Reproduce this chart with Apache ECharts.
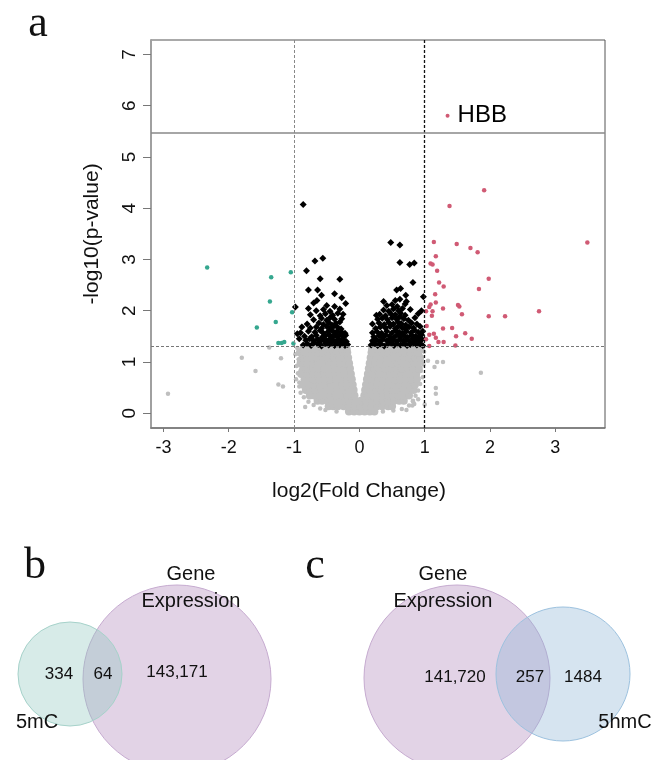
<!DOCTYPE html>
<html>
<head>
<meta charset="utf-8">
<script src="https://cdn.jsdelivr.net/npm/echarts@6/dist/echarts.min.js"></script>
<style>
html, body { margin: 0; padding: 0; background: #fff; }
#chart { width: 655px; height: 760px; }
</style>
</head>
<body>
<div id="chart"></div>
<script>
// axis ticks and cut-offs
const xTicks = [-3, -2, -1, 0, 1, 2, 3];
const yTicks = [0, 1, 2, 3, 4, 5, 6, 7];
const foldCutoffs = [-1, 1];
const pCutoff = 1.301;
const breakY = 5.48;

// non-significant genes, dense core read row by row: [y, [x...]]
const grayRows = [
  [0.03, [-0.16, -0.08, 0.0, 0.08, 0.16, 0.23]],
  [0.135, [-0.47, -0.4, -0.33, -0.24, -0.16, -0.07, 0.01, 0.1, 0.18, 0.27, 0.35, 0.44, 0.5]],
  [0.24, [-0.64, -0.57, -0.49, -0.41, -0.32, -0.24, -0.15, -0.07, 0.02, 0.1, 0.19, 0.27, 0.36, 0.44, 0.53, 0.61, 0.68]],
  [0.345, [-0.76, -0.69, -0.61, -0.53, -0.44, -0.36, -0.27, -0.19, -0.12, -0.075, 0.075, 0.13, 0.2, 0.28, 0.36, 0.44, 0.52, 0.6, 0.68, 0.76]],
  [0.45, [-0.82, -0.755, -0.67, -0.585, -0.5, -0.415, -0.33, -0.245, -0.16, -0.088, 0.088, 0.17, 0.255, 0.34, 0.425, 0.51, 0.595, 0.68, 0.765, 0.83]],
  [0.555, [-0.86, -0.775, -0.69, -0.605, -0.52, -0.435, -0.35, -0.265, -0.18, -0.102, 0.102, 0.185, 0.27, 0.355, 0.44, 0.525, 0.61, 0.695, 0.78, 0.85]],
  [0.66, [-0.84, -0.775, -0.7, -0.615, -0.53, -0.445, -0.36, -0.275, -0.19, -0.116, 0.116, 0.2, 0.285, 0.37, 0.455, 0.54, 0.625, 0.71, 0.795, 0.88]],
  [0.765, [-0.89, -0.795, -0.71, -0.625, -0.54, -0.455, -0.37, -0.285, -0.2, -0.13, 0.13, 0.215, 0.3, 0.385, 0.47, 0.555, 0.64, 0.725, 0.81, 0.87]],
  [0.87, [-0.86, -0.795, -0.71, -0.625, -0.54, -0.455, -0.37, -0.285, -0.21, -0.144, 0.144, 0.225, 0.31, 0.395, 0.48, 0.565, 0.65, 0.735, 0.82, 0.91]],
  [0.975, [-0.9, -0.805, -0.72, -0.635, -0.55, -0.465, -0.38, -0.3, -0.225, -0.158, 0.158, 0.24, 0.325, 0.41, 0.495, 0.58, 0.665, 0.75, 0.835, 0.89]],
  [1.08, [-0.87, -0.8, -0.73, -0.645, -0.56, -0.475, -0.39, -0.31, -0.24, -0.172, 0.172, 0.255, 0.34, 0.425, 0.51, 0.595, 0.68, 0.765, 0.85, 0.93]],
  [1.185, [-0.91, -0.815, -0.73, -0.645, -0.56, -0.475, -0.39, -0.32, -0.25, -0.186, 0.186, 0.265, 0.35, 0.435, 0.52, 0.605, 0.69, 0.775, 0.86, 0.9]],
  [1.25, [-0.86, -0.79, -0.72, -0.64, -0.56, -0.48, -0.4, -0.33, -0.26, -0.194, 0.194, 0.27, 0.355, 0.44, 0.525, 0.61, 0.695, 0.78, 0.865, 0.94]]
];

// non-significant genes, loose points round the core and far out
const grayLoose = [
  [-0.95, 1.27], [-0.98, 1.15], [-0.93, 1.05], [-0.96, 0.92], [-0.94, 0.78], [-0.97, 0.66],
  [-0.92, 0.52], [-0.9, 0.4], [-0.85, 0.31], [-0.78, 0.22], [-0.7, 0.16], [-0.6, 0.09],
  [-0.52, 0.06], [-0.35, 0.03], [-0.93, 1.19], [-0.9, 0.83], [-0.92, 0.6], [-0.83, 0.12],
  [0.96, 1.27], [0.99, 1.2], [0.95, 1.06], [0.98, 0.95], [0.94, 0.82], [0.97, 0.7],
  [0.93, 0.57], [0.9, 0.44], [0.86, 0.34], [0.82, 0.24], [0.76, 0.15], [0.65, 0.08],
  [0.52, 0.05], [0.36, 0.03], [0.84, 0.18], [0.9, 0.27], [0.95, 1.0], [0.72, 0.06],
  [-2.93, 0.38], [-1.8, 1.08], [-1.59, 0.82], [-1.38, 1.28], [-1.2, 1.07], [-1.24, 0.56],
  [-1.17, 0.52], [1.86, 0.79], [1.05, 1.02], [1.19, 1.0], [1.28, 1.0], [1.15, 0.9],
  [1.17, 0.49], [1.17, 0.38], [1.19, 0.2], [0.82, 0.23], [0.81, 0.15], [1.0, 0.17]
];

// p < 0.05 but |log2FC| < 1
const blackPts = [
  [-0.86, 4.07], [-0.68, 2.97], [-0.56, 3.02], [-0.81, 2.78], [-0.6, 2.62], [-0.3, 2.61],
  [-0.78, 2.4], [-0.64, 2.4], [-0.58, 2.3], [-0.38, 2.33], [-0.27, 2.25], [-0.65, 2.2],
  [-0.7, 2.15], [-0.98, 2.07], [-0.78, 2.04], [-0.21, 2.14],
  [-0.86, 1.33], [-0.8, 1.36], [-0.74, 1.32], [-0.69, 1.38], [-0.63, 1.34], [-0.58, 1.31],
  [-0.52, 1.36], [-0.47, 1.33], [-0.43, 1.38], [-0.38, 1.32], [-0.34, 1.35], [-0.3, 1.33],
  [-0.26, 1.37], [-0.22, 1.32], [-0.18, 1.34],
  [-0.82, 1.42], [-0.76, 1.45], [-0.7, 1.41], [-0.64, 1.44], [-0.6, 1.4], [-0.55, 1.43],
  [-0.5, 1.41], [-0.45, 1.45], [-0.4, 1.42], [-0.36, 1.4], [-0.32, 1.44], [-0.28, 1.41],
  [-0.24, 1.43], [-0.2, 1.4],
  [-0.84, 1.5], [-0.73, 1.49], [-0.66, 1.52], [-0.57, 1.48], [-0.52, 1.51], [-0.46, 1.53],
  [-0.41, 1.49], [-0.37, 1.52], [-0.33, 1.5], [-0.29, 1.54], [-0.25, 1.49], [-0.21, 1.52],
  [-0.9, 1.57], [-0.78, 1.6], [-0.68, 1.58], [-0.6, 1.61], [-0.55, 1.56], [-0.48, 1.59],
  [-0.43, 1.62], [-0.38, 1.57], [-0.34, 1.6], [-0.27, 1.58], [-0.22, 1.56],
  [-0.75, 1.66], [-0.66, 1.68], [-0.58, 1.65], [-0.5, 1.69], [-0.44, 1.66], [-0.39, 1.7],
  [-0.33, 1.67], [-0.28, 1.64],
  [-0.8, 1.74], [-0.62, 1.76], [-0.55, 1.73], [-0.47, 1.77], [-0.42, 1.72], [-0.36, 1.75], [-0.3, 1.78],
  [-0.7, 1.82], [-0.58, 1.85], [-0.5, 1.81], [-0.45, 1.86], [-0.38, 1.83], [-0.27, 1.84],
  [-0.75, 1.92], [-0.6, 1.9], [-0.52, 1.94], [-0.41, 1.91], [-0.33, 1.95], [-0.25, 1.93],
  [-0.66, 2.0], [-0.55, 2.02], [-0.45, 1.99], [-0.3, 2.03], [-0.5, 2.1], [-0.38, 2.08],
  [-0.92, 1.45], [-0.95, 1.55], [-0.88, 1.68],
  [0.48, 3.33], [0.62, 3.28], [0.62, 2.94], [0.77, 2.9], [0.84, 2.93], [0.82, 2.55],
  [0.63, 2.43], [0.57, 2.4], [0.98, 2.27], [0.71, 2.3], [0.37, 2.18], [0.42, 2.1],
  [0.18, 1.33], [0.23, 1.36], [0.28, 1.32], [0.33, 1.35], [0.38, 1.31], [0.43, 1.34],
  [0.48, 1.37], [0.53, 1.32], [0.58, 1.35], [0.63, 1.33], [0.68, 1.36], [0.73, 1.32],
  [0.78, 1.34], [0.83, 1.37], [0.88, 1.33], [0.93, 1.35], [0.97, 1.32],
  [0.2, 1.41], [0.26, 1.43], [0.31, 1.4], [0.36, 1.44], [0.42, 1.41], [0.47, 1.45],
  [0.52, 1.42], [0.57, 1.4], [0.62, 1.44], [0.67, 1.41], [0.72, 1.43], [0.77, 1.4],
  [0.82, 1.45], [0.87, 1.42], [0.92, 1.4], [0.96, 1.44],
  [0.22, 1.49], [0.3, 1.51], [0.35, 1.48], [0.4, 1.52], [0.46, 1.5], [0.53, 1.48],
  [0.58, 1.53], [0.63, 1.49], [0.69, 1.51], [0.74, 1.48], [0.8, 1.52], [0.86, 1.5],
  [0.91, 1.48], [0.95, 1.53],
  [0.2, 1.57], [0.27, 1.59], [0.34, 1.56], [0.42, 1.6], [0.5, 1.57], [0.56, 1.61],
  [0.61, 1.58], [0.66, 1.56], [0.72, 1.6], [0.79, 1.57], [0.84, 1.62], [0.9, 1.58], [0.97, 1.6],
  [0.25, 1.65], [0.32, 1.68], [0.4, 1.66], [0.47, 1.69], [0.55, 1.65], [0.6, 1.7],
  [0.65, 1.67], [0.7, 1.64], [0.76, 1.68], [0.83, 1.66], [0.93, 1.69],
  [0.2, 1.74], [0.3, 1.76], [0.38, 1.73], [0.45, 1.77], [0.52, 1.74], [0.59, 1.78],
  [0.64, 1.75], [0.71, 1.72], [0.8, 1.76], [0.88, 1.74],
  [0.28, 1.83], [0.35, 1.85], [0.43, 1.82], [0.5, 1.86], [0.57, 1.83], [0.62, 1.88],
  [0.68, 1.84], [0.75, 1.81], [0.85, 1.86],
  [0.26, 1.91], [0.31, 1.93], [0.4, 1.9], [0.48, 1.94], [0.55, 1.92], [0.63, 1.95],
  [0.7, 1.91], [0.9, 1.94],
  [0.37, 2.01], [0.45, 1.99], [0.52, 2.03], [0.6, 2.0], [0.66, 2.04], [0.78, 2.02], [0.95, 2.0],
  [0.5, 2.12], [0.58, 2.08], [0.7, 2.13], [0.55, 2.2], [0.62, 2.22], [0.72, 2.18]
];

// down-regulated (log2FC < -1, p < 0.05)
const downPts = [
  [-2.33, 2.84], [-1.35, 2.65], [-1.05, 2.75], [-1.37, 2.18], [-1.03, 1.97], [-1.28, 1.78],
  [-1.57, 1.67], [-1.24, 1.37], [-1.19, 1.37], [-1.15, 1.39], [-1.01, 1.36]
];

// up-regulated (log2FC > 1, p < 0.05)
const upPts = [
  [1.91, 4.35], [1.38, 4.04], [3.49, 3.33], [1.14, 3.34], [1.49, 3.3], [1.7, 3.22],
  [1.81, 3.14], [1.17, 3.06], [1.09, 2.92], [1.12, 2.9], [1.19, 2.78], [1.98, 2.62],
  [1.22, 2.55], [1.29, 2.47], [1.83, 2.42], [1.16, 2.32], [1.17, 2.16], [1.09, 2.12],
  [1.07, 2.07], [1.51, 2.11], [1.53, 2.08], [1.02, 1.99], [1.12, 1.99], [1.28, 2.04],
  [1.57, 1.93], [1.11, 1.9], [1.98, 1.89], [2.23, 1.89], [2.75, 1.99], [1.03, 1.7],
  [1.28, 1.65], [1.42, 1.66], [1.07, 1.53], [1.14, 1.55], [1.17, 1.47], [1.48, 1.5],
  [1.62, 1.56], [1.72, 1.45], [1.02, 1.44], [1.21, 1.39], [1.29, 1.39], [1.07, 1.31], [1.47, 1.32]
];

const labeledGenes = [['HBB', 1.35, 5.8]];

// Venn panels
const vennBSets = ['5mC', 'Gene\nExpression'];
const vennBCounts = [334, 64, 143171];
const vennCSets = ['Gene\nExpression', '5hmC'];
const vennCCounts = [141720, 257, 1484];

// layout of the Venn panels, pixel units inside each panel grid
const vennBLayout = {
  circles: [[70, 144, 104], [177, 149, 188]],
  counts: [[59, 144], [103, 144], [177, 142]],
  names: [[37, 192], [191, 58]]
};
const vennCLayout = {
  circles: [[137, 148, 186], [243, 144, 134]],
  counts: [[135, 147], [210, 147], [263, 147]],
  names: [[123, 58], [305, 192]]
};

const SANS = '"Liberation Sans", Arial, sans-serif';
const SERIF = '"Liberation Serif", "Times New Roman", serif';

const purple = { color: 'rgba(178,140,190,0.38)', borderColor: '#c6abd0', borderWidth: 1, opacity: 1 };
const teal = { color: 'rgba(141,198,189,0.35)', borderColor: '#a6d2ca', borderWidth: 1, opacity: 1 };
const blue = { color: 'rgba(138,178,212,0.35)', borderColor: '#9dc2df', borderWidth: 1, opacity: 1 };

function fmtCount(n) {
  return n >= 10000 ? n.toLocaleString('en-US') : String(n);
}

const grayCore = [];
grayRows.forEach(([y, xs]) => xs.forEach(x => grayCore.push([x, y])));

function vennSeries(idx, sets, counts, layout, styles, drawOrder) {
  const circles = drawOrder.map(i => ({
    value: layout.circles[i].slice(0, 2),
    symbolSize: layout.circles[i][2],
    itemStyle: styles[i]
  }));
  const textLabel = size => ({
    show: true, position: 'inside', formatter: '{b}', fontFamily: SANS,
    fontSize: size, lineHeight: 27, color: '#111', opacity: 1
  });
  return [
    {
      type: 'scatter', xAxisIndex: idx, yAxisIndex: idx, silent: true,
      symbol: 'circle', data: circles, z: 2
    },
    {
      type: 'scatter', xAxisIndex: idx, yAxisIndex: idx, silent: true, symbolSize: 0, z: 3,
      itemStyle: { opacity: 1 },
      data: counts.map((n, i) => ({ name: fmtCount(n), value: layout.counts[i] })),
      label: textLabel(17)
    },
    {
      type: 'scatter', xAxisIndex: idx, yAxisIndex: idx, silent: true, symbolSize: 0, z: 3,
      itemStyle: { opacity: 1 },
      data: sets.map((s, i) => ({ name: s, value: layout.names[i] })),
      label: textLabel(20)
    }
  ];
}

const chart = echarts.init(document.getElementById('chart'), null, { renderer: 'canvas' });

const hiddenAxis = (grid, max, inverse) => ({
  type: 'value', gridIndex: grid, min: 0, max: max, inverse: !!inverse, show: false
});

const dots = (name, data, symbol, size, color) => ({
  type: 'scatter', name: name, data: data, symbol: symbol, symbolSize: size,
  itemStyle: { color: color, opacity: 1 }, silent: true
});

chart.setOption({
  animation: false,
  backgroundColor: '#fff',
  graphic: [
    { type: 'text', x: 38, y: 24, style: { text: 'a', fontFamily: SERIF, fontSize: 44, fill: '#111', align: 'center', verticalAlign: 'middle' } },
    { type: 'text', x: 35, y: 566, style: { text: 'b', fontFamily: SERIF, fontSize: 44, fill: '#111', align: 'center', verticalAlign: 'middle' } },
    { type: 'text', x: 315, y: 566, style: { text: 'c', fontFamily: SERIF, fontSize: 44, fill: '#111', align: 'center', verticalAlign: 'middle' } }
  ],
  grid: [
    { left: 151, top: 40, width: 454, height: 388, show: true, borderColor: '#555', borderWidth: 1 },
    { left: 0, top: 530, width: 320, height: 230 },
    { left: 320, top: 530, width: 335, height: 230 }
  ],
  xAxis: [
    {
      type: 'value', gridIndex: 0, min: -3.19, max: 3.76,
      axisLine: { show: true, onZero: false, lineStyle: { color: '#777', width: 1.5 } },
      axisTick: { show: true, customValues: xTicks, length: 4, lineStyle: { color: '#777' } },
      axisLabel: { customValues: xTicks, fontFamily: SANS, fontSize: 18, color: '#111', margin: 11 },
      splitLine: { show: false },
      name: 'log2(Fold Change)', nameLocation: 'middle', nameGap: 53,
      nameTextStyle: { fontFamily: SANS, fontSize: 21, color: '#111', padding: [0, 38, 0, 0] }
    },
    hiddenAxis(1, 320),
    hiddenAxis(2, 335)
  ],
  yAxis: [
    {
      type: 'value', gridIndex: 0, min: -0.29, max: 7.28,
      axisLine: { show: true, onZero: false, lineStyle: { color: '#a0a0a0', width: 2 } },
      axisTick: { show: true, customValues: yTicks, length: 8, lineStyle: { color: '#777' } },
      axisLabel: { customValues: yTicks, rotate: 90, fontFamily: SANS, fontSize: 19, color: '#111', margin: 12 },
      splitLine: { show: false },
      name: '-log10(p-value)', nameLocation: 'middle', nameGap: 48, nameRotate: 90,
      nameTextStyle: { fontFamily: SANS, fontSize: 21, color: '#111' }
    },
    hiddenAxis(1, 230, true),
    hiddenAxis(2, 230, true)
  ],
  series: [
    dots('ns', grayCore, 'circle', 8, '#bfbfbf'),
    dots('ns', grayLoose, 'circle', 4.5, '#bfbfbf'),
    dots('p<0.05', blackPts, 'diamond', 7, '#000'),
    dots('down', downPts, 'circle', 4.5, '#35a78f'),
    dots('up', upPts, 'circle', 4.5, '#d05a74'),
    {
      type: 'scatter', name: 'labeled', symbol: 'circle', symbolSize: 4, silent: true,
      itemStyle: { color: '#d05a74', opacity: 1 },
      data: labeledGenes.map(g => ({ name: g[0], value: [g[1], g[2]] })),
      label: { show: true, position: 'right', distance: 8, formatter: '{b}', fontFamily: SANS, fontSize: 24, color: '#000', opacity: 1 },
      markLine: {
        silent: true, symbol: 'none', label: { show: false }, animation: false,
        data: [
          { xAxis: foldCutoffs[0], lineStyle: { type: [3, 2], color: '#888', width: 1, opacity: 1 } },
          { xAxis: foldCutoffs[1], lineStyle: { type: [3, 2], color: '#111', width: 1.3, opacity: 1 } },
          { yAxis: pCutoff, lineStyle: { type: [3, 2], color: '#777', width: 1, opacity: 1 } },
          { yAxis: breakY, lineStyle: { type: 'solid', color: '#888', width: 1.5, opacity: 1 } }
        ]
      }
    },
    ...vennSeries(1, vennBSets, vennBCounts, vennBLayout, [teal, purple], [1, 0]),
    ...vennSeries(2, vennCSets, vennCCounts, vennCLayout, [purple, blue], [0, 1])
  ]
});
</script>
</body>
</html>
